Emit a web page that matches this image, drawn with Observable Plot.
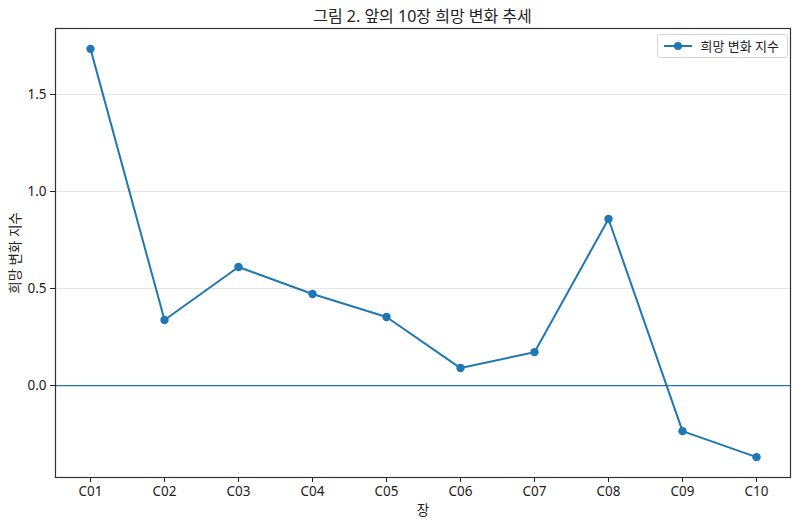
<!DOCTYPE html>
<html>
<head>
<meta charset="utf-8">
<script src="https://cdn.jsdelivr.net/npm/d3@7"></script>
<script src="https://cdn.jsdelivr.net/npm/@observablehq/plot@0.6"></script>
<style>
  html, body { margin: 0; padding: 0; background: #fff; }
  #wrap { position: relative; width: 800px; height: 525px; font-family: "Noto Sans", "Noto Sans CJK KR", sans-serif; color: #222; }
  #title { position: absolute; left: 55px; width: 735px; top: 3px; text-align: center; font-size: 16px; }
  #legend { position: absolute; right: 12px; top: 34px; border: 1px solid #d5d5d5; border-radius: 3px; background: rgba(255,255,255,0.85); padding: 1px 8px 2px 6px; font-size: 13px; display: flex; align-items: center; gap: 8px; }
</style>
</head>
<body>
<div id="wrap">
  <div id="chart"></div>
  <div id="title">그림 2. 앞의 10장 희망 변화 추세</div>
  <div id="legend"><svg width="28" height="10"><line x1="0" y1="5" x2="28" y2="5" stroke="#1f77b4" stroke-width="2"/><circle cx="14" cy="5" r="4" fill="#1f77b4"/></svg><span>희망 변화 지수</span></div>
</div>
<script>
const chapters = ["C01","C02","C03","C04","C05","C06","C07","C08","C09","C10"];
const hopeIndex = [1.735, 0.338, 0.611, 0.472, 0.353, 0.090, 0.172, 0.858, -0.235, -0.369];
const yTicks = [0, 0.5, 1.0, 1.5];
const seriesName = "희망 변화 지수";
const xLabel = "장";

const data = chapters.map((c, i) => ({chapter: c, value: hopeIndex[i]}));
const color = "#1f77b4";

const plot = Plot.plot({
  width: 800,
  height: 525,
  marginLeft: 55,
  marginRight: 10,
  marginTop: 28,
  marginBottom: 48,
  style: {fontFamily: '"Noto Sans", "Noto Sans CJK KR", sans-serif', fontSize: "13.5px", color: "#222", background: "#fff"},
  x: {type: "point", domain: chapters, padding: 0.45},
  y: {domain: [-0.474, 1.84]},
  marks: [
    Plot.gridY(yTicks, {stroke: "#e6e6e6", strokeOpacity: 1}),
    Plot.ruleY([0], {stroke: color, strokeWidth: 1.3}),
    Plot.line(data, {x: "chapter", y: "value", stroke: color, strokeWidth: 2}),
    Plot.dot(data, {x: "chapter", y: "value", fill: color, r: 4.2}),
    Plot.axisX({tickSize: 5, label: xLabel, labelAnchor: "center", labelArrow: "none", labelOffset: 37}),
    Plot.axisY(yTicks, {tickSize: 5, tickFormat: d3.format(".1f"), label: seriesName, labelAnchor: "center", labelArrow: "none", labelOffset: 45}),
    Plot.frame({stroke: "#333", strokeWidth: 1.2})
  ]
});
document.getElementById("chart").appendChild(plot);
</script>
</body>
</html>
